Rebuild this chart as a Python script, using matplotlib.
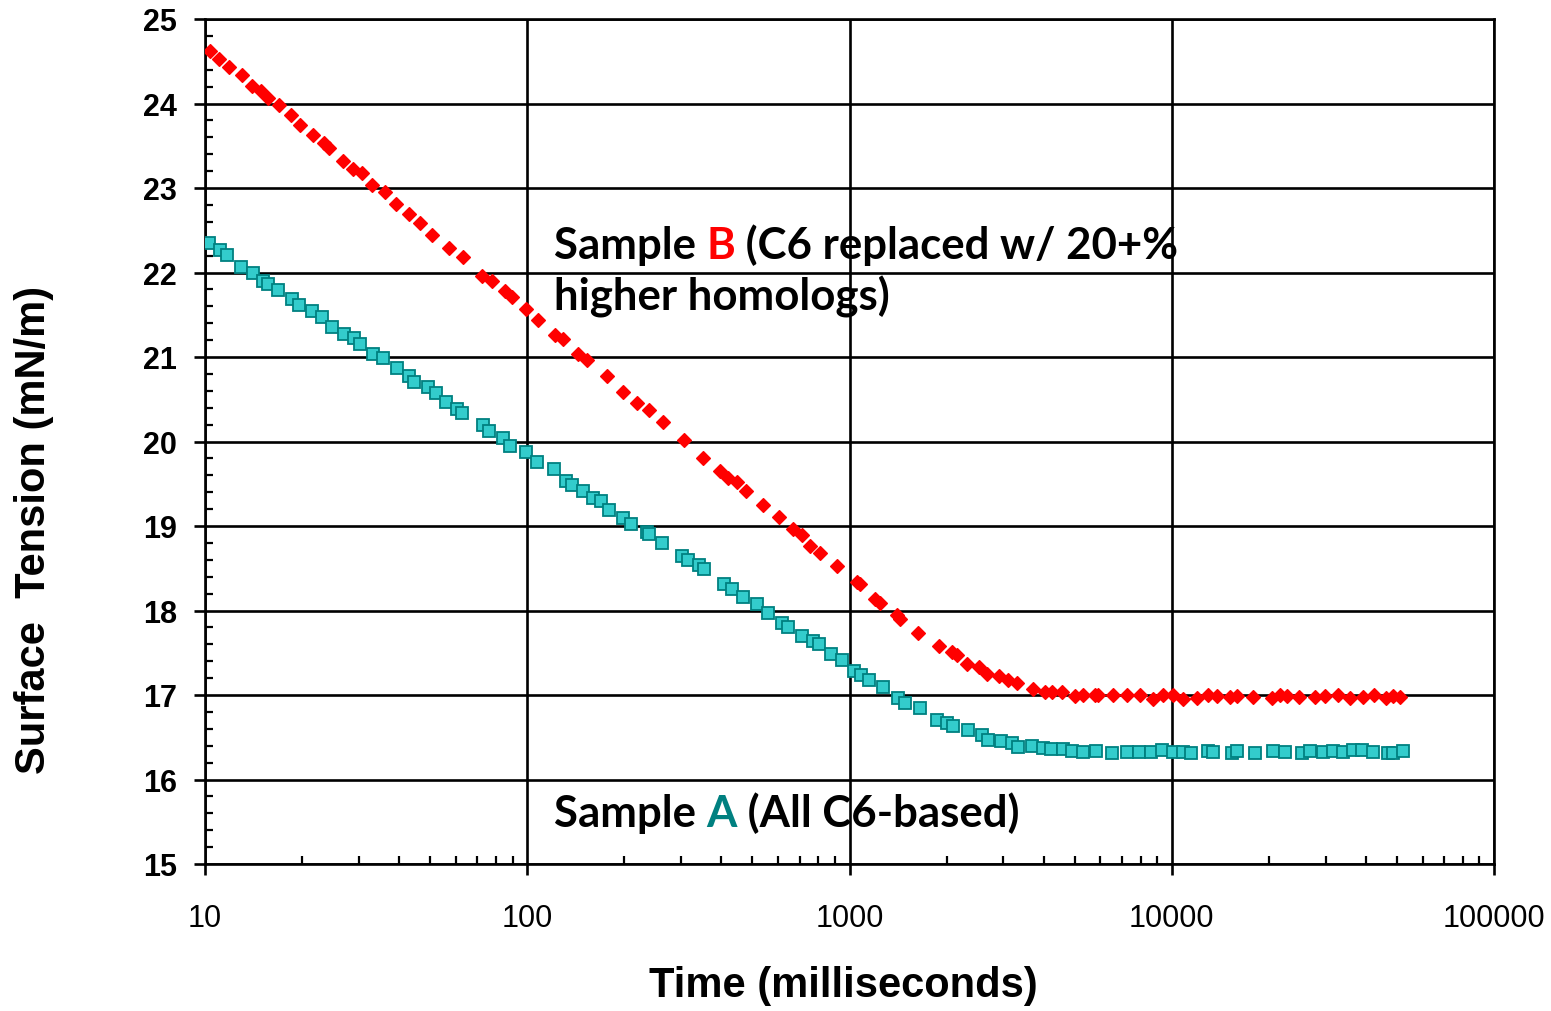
import matplotlib
matplotlib.use("Agg")
import matplotlib.pyplot as plt
from matplotlib.ticker import LogLocator, FixedLocator, NullFormatter

# Sample B (C6 replaced w/ 20+% higher homologs) - time in ms, surface tension in mN/m
time_b = [10.4, 11.08, 11.9, 13.0, 13.96, 14.92, 15.72, 16.97, 18.49, 19.72,
          21.68, 23.41, 24.31, 26.75, 28.86, 30.64, 32.98, 36.2, 39.14, 43.05,
          46.47, 50.53, 57.31, 63.34, 72.54, 77.58, 85.31, 89.49, 99.1, 108.2,
          121.9, 129.4, 144.0, 153.6, 176.4, 198.7, 218.6, 238.7, 264.4, 306.5,
          350.4, 396.4, 418.8, 446.7, 477.3, 540.2, 605.6, 669.3, 710.7, 754.3,
          810.0, 912.8, 1052.7, 1078, 1199.7, 1243.3, 1401.5, 1434.8, 1627.5, 1899.6,
          2076.3, 2151.7, 2310.9, 2528.4, 2666, 2917.5, 3110.9, 3303.5, 3719, 4042.7,
          4241, 4555, 5010, 5316, 5778, 5917, 6558, 7279, 7970, 8728,
          9374, 10111, 10859, 11952, 12986, 13788, 15162, 15905, 17909, 20428,
          21675, 22837, 24881, 27832, 29895, 32868, 35747, 39140, 42420, 46230,
          48700, 51090]
tension_b = [24.62, 24.53, 24.43, 24.34, 24.21, 24.15, 24.07, 23.98, 23.86, 23.74,
             23.63, 23.53, 23.47, 23.32, 23.22, 23.18, 23.04, 22.95, 22.81, 22.69,
             22.59, 22.44, 22.29, 22.18, 21.96, 21.9, 21.78, 21.71, 21.57, 21.44,
             21.26, 21.21, 21.04, 20.97, 20.77, 20.59, 20.45, 20.37, 20.23, 20.02,
             19.81, 19.65, 19.57, 19.52, 19.41, 19.25, 19.11, 18.96, 18.89, 18.76,
             18.68, 18.53, 18.34, 18.31, 18.14, 18.09, 17.95, 17.9, 17.73, 17.58,
             17.51, 17.47, 17.37, 17.33, 17.25, 17.23, 17.18, 17.14, 17.07, 17.04,
             17.03, 17.03, 16.99, 17.0, 17.0, 17.0, 17.0, 17.0, 17.0, 16.95,
             17.0, 17.0, 16.95, 16.97, 17.0, 16.99, 16.98, 16.99, 16.98, 16.96,
             17.0, 16.99, 16.98, 16.98, 16.99, 17.0, 16.96, 16.98, 17.0, 16.96,
             16.99, 16.98]

# Sample A (All C6-based)
time_a = [10.29, 11.13, 11.68, 12.9, 14.12, 15.17, 15.65, 16.81, 18.58, 19.62,
          21.53, 23.12, 24.73, 27.0, 29.07, 30.27, 33.3, 35.6, 39.34, 43.05,
          44.52, 49.11, 52.12, 55.84, 60.4, 62.61, 72.75, 76.09, 83.89, 88.4,
          99.1, 106.98, 121.1, 131.9, 137.4, 148.6, 160.3, 169.4, 179.7, 197.8,
          209.9, 234.9, 238.7, 261.4, 301.6, 314.8, 342.0, 353.6, 408.8, 431.0,
          468.3, 515.2, 557.5, 616.0, 645.7, 713.8, 768.7, 805.8, 876.2, 947.8,
          1032.7, 1083.3, 1149.6, 1273.3, 1409.3, 1486.8, 1655.3, 1864.8, 2002.7, 2099.5,
          2337.6, 2571.9, 2696.3, 2946.1, 3187.7, 3326.8, 3677.7, 3993.5, 4210.7, 4581.6,
          4902.5, 5316, 5820, 6512, 7247, 7932, 8625, 9349, 10111, 10859,
          11474, 12986, 13403, 15346, 15905, 18126, 20575, 22460, 25310, 26855,
          29405, 31585, 33925, 36430, 39020, 42030, 46990, 48700, 52090]
tension_a = [22.35, 22.27, 22.21, 22.07, 22.0, 21.9, 21.86, 21.79, 21.69, 21.61,
             21.54, 21.47, 21.36, 21.27, 21.22, 21.15, 21.03, 20.99, 20.87, 20.78,
             20.71, 20.65, 20.57, 20.47, 20.38, 20.34, 20.2, 20.13, 20.04, 19.95,
             19.87, 19.76, 19.67, 19.53, 19.49, 19.41, 19.33, 19.29, 19.19, 19.1,
             19.02, 18.93, 18.9, 18.8, 18.64, 18.6, 18.54, 18.49, 18.31, 18.25,
             18.16, 18.08, 17.97, 17.85, 17.81, 17.7, 17.64, 17.6, 17.49, 17.41,
             17.28, 17.24, 17.18, 17.1, 16.97, 16.91, 16.85, 16.7, 16.67, 16.63,
             16.58, 16.53, 16.47, 16.45, 16.43, 16.39, 16.4, 16.37, 16.36, 16.36,
             16.34, 16.33, 16.34, 16.31, 16.32, 16.32, 16.32, 16.35, 16.32, 16.32,
             16.31, 16.34, 16.32, 16.31, 16.34, 16.31, 16.34, 16.32, 16.31, 16.34,
             16.32, 16.34, 16.32, 16.35, 16.35, 16.32, 16.31, 16.31, 16.34]

x_ticks = [10, 100, 1000, 10000, 100000]
x_labels = ["10", "100", "1000", "10000", "100000"]
y_ticks = list(range(15, 26))

fig = plt.figure(figsize=(15.51, 10.12), dpi=100)
ax = fig.add_axes([205 / 1551, 1 - 865 / 1012, 1289 / 1551, 845 / 1012])

ax.plot(time_a, tension_a, linestyle="none", marker="s", markersize=8.5,
        markerfacecolor="#33CCCC", markeredgecolor="#008080", markeredgewidth=1.3, zorder=3)
ax.plot(time_b, tension_b, linestyle="none", marker="D", markersize=7.4,
        markerfacecolor="#FF0000", markeredgecolor="#FF0000", markeredgewidth=0.9, zorder=4)

ax.set_xscale("log")
ax.set_xlim(10, 100000)
ax.set_ylim(15, 25)

ax.xaxis.set_major_locator(FixedLocator(x_ticks))
ax.set_xticklabels(x_labels)
ax.xaxis.set_minor_locator(LogLocator(base=10, subs=range(2, 10)))
ax.xaxis.set_minor_formatter(NullFormatter())
ax.set_yticks(y_ticks)
ax.set_yticks([v / 5 for v in range(75, 126)], minor=True)

ax.grid(True, which="major", color="black", linewidth=1.9)
ax.set_axisbelow(True)
for s in ax.spines.values():
    s.set_linewidth(1.9)
    s.set_color("black")

ax.tick_params(axis="both", which="major", direction="out", length=8, width=1.9)
ax.tick_params(axis="both", which="minor", direction="in", length=6, width=1.6)
ax.tick_params(axis="x", which="major", pad=20)
ax.tick_params(axis="y", which="major", pad=12)
for lab in ax.get_xticklabels():
    lab.set_fontfamily("Liberation Sans")
    lab.set_fontsize(22)
for lab in ax.get_yticklabels():
    lab.set_fontfamily("Liberation Sans")
    lab.set_fontsize(22)
    lab.set_fontweight("bold")

ax.set_xlabel("Time (milliseconds)", fontfamily="Liberation Sans", fontsize=30,
              fontweight="bold")
ax.xaxis.set_label_coords(0.495, -0.12)
ax.set_ylabel("Surface  Tension (mN/m)", fontfamily="Liberation Sans", fontsize=30,
              fontweight="bold")
ax.yaxis.set_label_coords(-0.117, 0.396)

# annotations
note = dict(fontfamily="Lato", fontsize=31.5, fontweight="bold")
t1 = ax.text(121, 22.17, "Sample ", color="black", **note)
t2 = ax.annotate("B", xy=(1, 0), xycoords=t1, va="bottom", color="#FF0000", **note)
ax.annotate(" (C6 replaced w/ 20+%", xy=(1, 0), xycoords=t2, va="bottom", color="black", **note)
ax.text(121, 21.56, "higher homologs)", color="black", **note)

t4 = ax.text(121, 15.45, "Sample ", color="black", **note)
t5 = ax.annotate("A", xy=(1, 0), xycoords=t4, va="bottom", color="#008080", **note)
ax.annotate(" (All C6-based)", xy=(1, 0), xycoords=t5, va="bottom", color="black", **note)

fig.savefig("out.png", dpi=100)
